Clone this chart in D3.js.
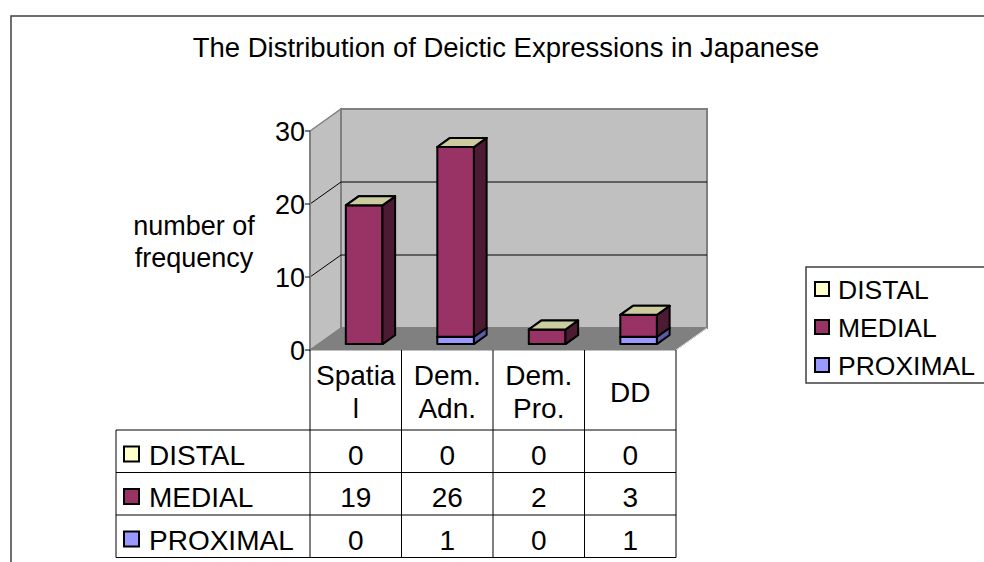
<!DOCTYPE html>
<html><head><meta charset="utf-8">
<script src="https://cdn.jsdelivr.net/npm/d3@7"></script>
<style>
html,body{margin:0;padding:0;background:#fff;}
svg{display:block;}
text{font-family:"Liberation Sans",Arial,sans-serif;fill:#000;}
</style></head>
<body>
<svg id="chart" width="984" height="562"></svg>
<script>
// ---- data ----
const title = "The Distribution of Deictic Expressions in Japanese";
const categories = ["Spatial", "Dem. Adn.", "Dem. Pro.", "DD"];
const categoryLines = [["Spatia", "l"], ["Dem.", "Adn."], ["Dem.", "Pro."], ["DD"]];
const seriesNames = ["DISTAL", "MEDIAL", "PROXIMAL"];
const distal = [0, 0, 0, 0];
const medial = [19, 26, 2, 3];
const proximal = [0, 1, 0, 1];
const yTicks = [0, 10, 20, 30];
const yTitle = ["number of", "frequency"];

// ---- styles ----
const colors = {DISTAL: "#ffffcc", MEDIAL: "#993366", PROXIMAL: "#9999ff"};
const sideColors = {DISTAL: "#80806a", MEDIAL: "#4d1a33", PROXIMAL: "#5a5aa6"};
const topColors = {DISTAL: "#cccc9f", MEDIAL: "#7a2952", PROXIMAL: "#7a7acc"};
const values = {DISTAL: distal, MEDIAL: medial, PROXIMAL: proximal};
const stackOrder = ["PROXIMAL", "MEDIAL", "DISTAL"]; // bottom -> top

const svg = d3.select("#chart");

// outer frame
svg.append("rect").attr("x", 11).attr("y", 16).attr("width", 1000).attr("height", 600)
  .attr("fill", "#fff").attr("stroke", "#404040").attr("stroke-width", 1.5);

// title
svg.append("text").attr("x", 506).attr("y", 57).attr("text-anchor", "middle")
  .attr("font-size", 27.5).text(title);

// scales
const x = d3.scaleBand().domain(categories).range([310, 676]);
const y = d3.scaleLinear().domain([0, 30]).range([350, 131]);
const DX = 31, DY = -22; // depth offset
const zFront = 0.27, zBack = 0.68;
const off = z => [z * DX, z * DY];
const poly = pts => pts.map(p => p.join(",")).join(" ");

const x0 = x.range()[0], x1 = x.range()[1];
const yTop = y(30), yBot = y(0);

// side wall
svg.append("polygon")
  .attr("points", poly([[x0, yTop], [x0 + DX, yTop + DY], [x0 + DX, yBot + DY], [x0, yBot]]))
  .attr("fill", "#c0c0c0").attr("stroke", "#808080").attr("stroke-width", 1.5);
// back wall
svg.append("rect").attr("x", x0 + DX).attr("y", yTop + DY)
  .attr("width", x1 - x0).attr("height", yBot - yTop)
  .attr("fill", "#c0c0c0").attr("stroke", "#808080").attr("stroke-width", 2);
// floor
svg.append("polygon")
  .attr("points", poly([[x0, yBot], [x1, yBot], [x1 + DX, yBot + DY], [x0 + DX, yBot + DY]]))
  .attr("fill", "#808080").attr("stroke", "#808080").attr("stroke-width", 1);
svg.append("line").attr("x1", x1).attr("y1", yBot).attr("x2", x1 + DX).attr("y2", yBot + DY)
  .attr("stroke", "#e0e0e0").attr("stroke-width", 1);

// gridlines (back wall and side wall diagonals)
yTicks.filter(t => t > 0 && t < 30).forEach(t => {
  svg.append("line").attr("x1", x0 + DX).attr("x2", x1 + DX)
    .attr("y1", y(t) + DY).attr("y2", y(t) + DY).attr("stroke", "#000").attr("stroke-width", 1);
  svg.append("line").attr("x1", x0).attr("x2", x0 + DX)
    .attr("y1", y(t)).attr("y2", y(t) + DY).attr("stroke", "#000").attr("stroke-width", 1);
});

// y axis
svg.append("line").attr("x1", x0).attr("x2", x0).attr("y1", yTop).attr("y2", yBot)
  .attr("stroke", "#808080").attr("stroke-width", 2);
yTicks.forEach(t => {
  svg.append("line").attr("x1", x0 - 5).attr("x2", x0).attr("y1", y(t)).attr("y2", y(t))
    .attr("stroke", "#000").attr("stroke-width", 1);
  svg.append("text").attr("x", x0 - 5).attr("y", y(t) + 10).attr("text-anchor", "end")
    .attr("font-size", 27).text(t);
});
yTitle.forEach((s, i) => {
  svg.append("text").attr("x", 194).attr("y", 235 + i * 32).attr("text-anchor", "middle")
    .attr("font-size", 27).text(s);
});

// bars
const bw = x.bandwidth() * 0.4;
const [fdx, fdy] = off(zFront);
const [bdx, bdy] = off(zBack);
const ddx = bdx - fdx, ddy = bdy - fdy;
categories.forEach((c, ci) => {
  let base = 0;
  const bx = x(c) + (x.bandwidth() - bw) / 2 + fdx;
  stackOrder.forEach(s => {
    const v = values[s][ci];
    const yb = y(base) + fdy, yt = y(base + v) + fdy;
    const g = svg.append("g");
    if (v > 0) {
      g.append("rect").attr("x", bx).attr("y", yt).attr("width", bw).attr("height", yb - yt)
        .attr("fill", colors[s]).attr("stroke", "#000").attr("stroke-width", 2).attr("stroke-linejoin", "round");
      g.append("polygon")
        .attr("points", poly([[bx + bw, yt], [bx + bw + ddx, yt + ddy], [bx + bw + ddx, yb + ddy], [bx + bw, yb]]))
        .attr("fill", sideColors[s]).attr("stroke", "#000").attr("stroke-width", 2).attr("stroke-linejoin", "round");
    }
    g.append("polygon")
      .attr("points", poly([[bx, yt], [bx + ddx, yt + ddy], [bx + bw + ddx, yt + ddy], [bx + bw, yt]]))
      .attr("fill", topColors[s]).attr("stroke", "#000").attr("stroke-width", 2).attr("stroke-linejoin", "round");
    base += v;
  });
});

// data table
const tLeft = 116, hdrTop = 350, rowTop = 430, rowH = 42.5;
const rowY = i => rowTop + i * rowH;
const tbl = svg.append("g");
const lineCol = "#000";
[x0, ...categories.map(c => x(c) + x.bandwidth())].forEach(vx => {
  tbl.append("line").attr("x1", vx).attr("x2", vx).attr("y1", hdrTop).attr("y2", rowY(3))
    .attr("stroke", lineCol).attr("stroke-width", 1);
});
tbl.append("line").attr("x1", tLeft).attr("x2", tLeft).attr("y1", rowTop).attr("y2", rowY(3))
  .attr("stroke", lineCol).attr("stroke-width", 1);
[0, 1, 2, 3].forEach(i => {
  tbl.append("line").attr("x1", tLeft).attr("x2", x1).attr("y1", rowY(i)).attr("y2", rowY(i))
    .attr("stroke", lineCol).attr("stroke-width", 1);
});
categoryLines.forEach((lines, ci) => {
  const cx = x(categories[ci]) + x.bandwidth() / 2;
  const startY = lines.length === 1 ? 402 : 385;
  lines.forEach((l, li) => {
    tbl.append("text").attr("x", cx).attr("y", startY + li * 33).attr("text-anchor", "middle")
      .attr("font-size", 28).text(l);
  });
});
seriesNames.forEach((s, ri) => {
  const by = rowY(ri) + rowH - 8;
  tbl.append("rect").attr("x", 124).attr("y", by - 18).attr("width", 15).attr("height", 15)
    .attr("fill", colors[s]).attr("stroke", "#000").attr("stroke-width", 2);
  tbl.append("text").attr("x", 149).attr("y", by).attr("font-size", 28).text(s);
  values[s].forEach((v, ci) => {
    tbl.append("text").attr("x", x(categories[ci]) + x.bandwidth() / 2).attr("y", by)
      .attr("text-anchor", "middle").attr("font-size", 28).text(v);
  });
});

// legend
const lg = svg.append("g");
lg.append("rect").attr("x", 806).attr("y", 267).attr("width", 200).attr("height", 116)
  .attr("fill", "#fff").attr("stroke", "#404040").attr("stroke-width", 1.5);
seriesNames.forEach((s, i) => {
  const by = 299 + i * 38;
  lg.append("rect").attr("x", 815).attr("y", by - 17).attr("width", 14).attr("height", 14)
    .attr("fill", colors[s]).attr("stroke", "#000").attr("stroke-width", 2);
  lg.append("text").attr("x", 838).attr("y", by).attr("font-size", 26.5).text(s);
});
</script>
</body></html>
